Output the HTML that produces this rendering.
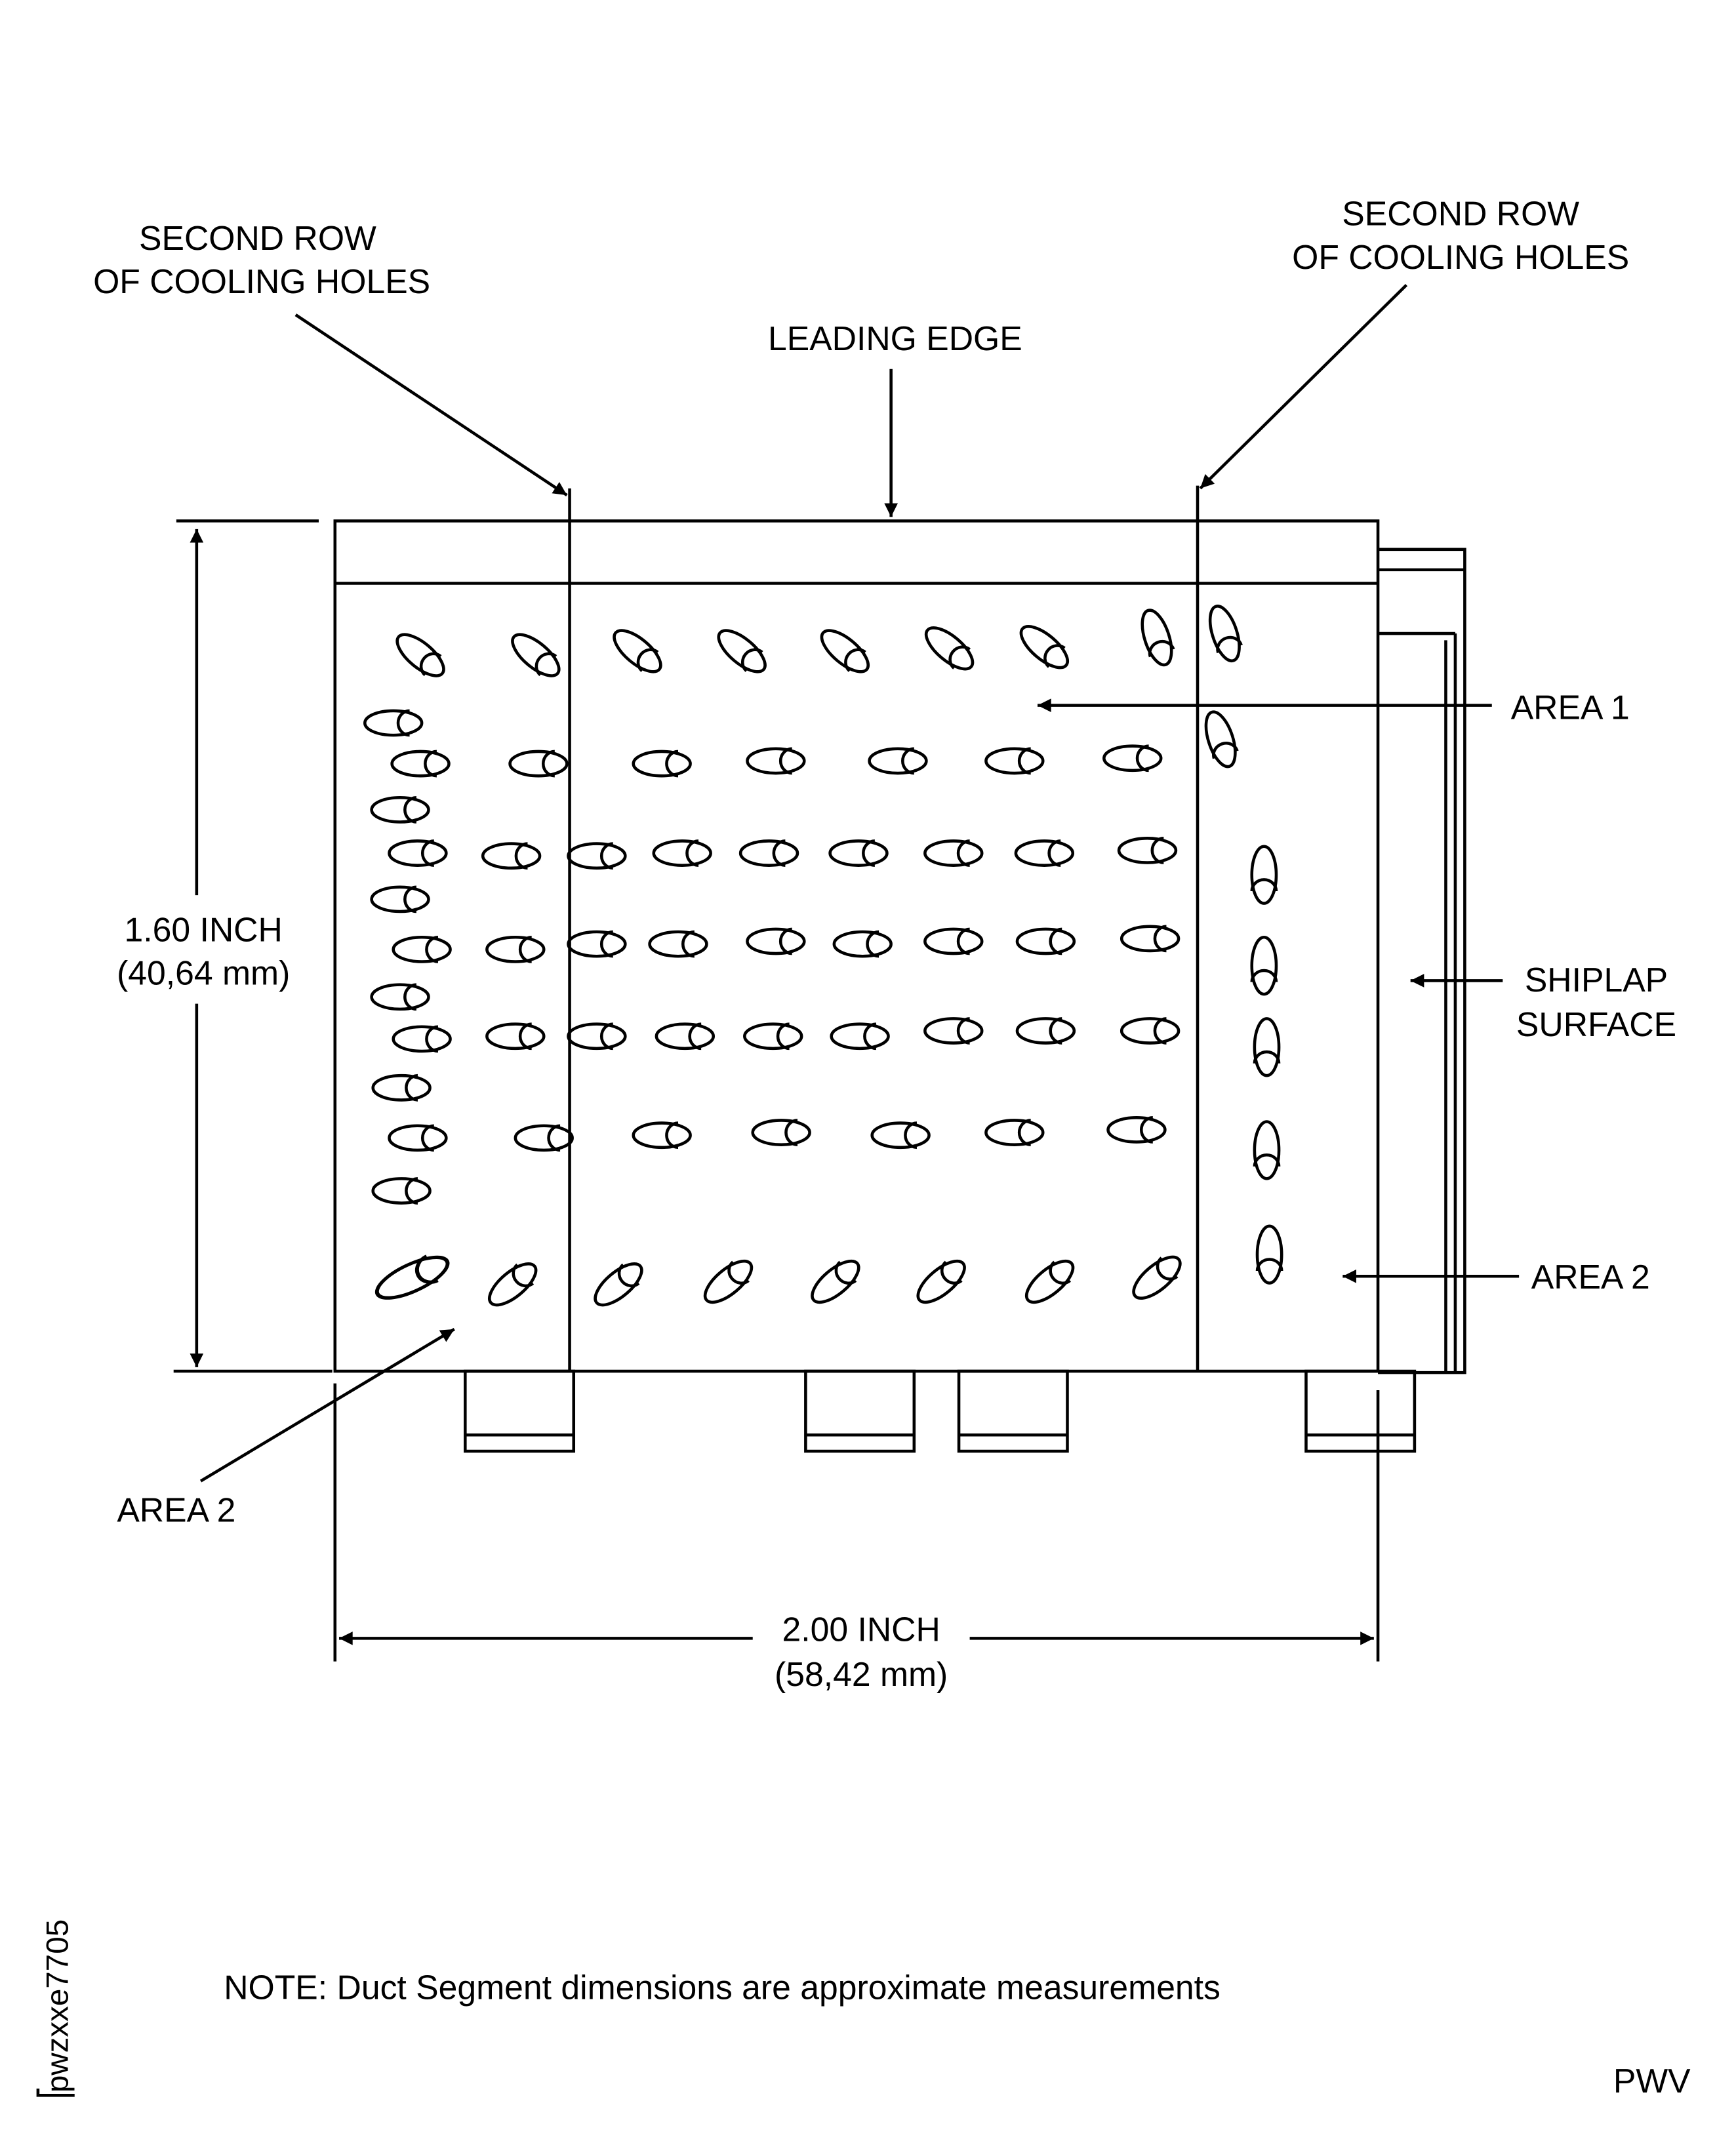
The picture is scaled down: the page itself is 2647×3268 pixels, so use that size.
<!DOCTYPE html>
<html><head><meta charset="utf-8"><style>
html,body{margin:0;padding:0;background:#fff}
svg{display:block}
text{font-family:"Liberation Sans",Arial,sans-serif;font-size:25px;fill:#000}
</style></head><body>
<svg width="2647" height="3268" viewBox="0 0 1280 1580" xmlns="http://www.w3.org/2000/svg">
<defs>
<marker id="a" viewBox="0 0 10 10" refX="10" refY="5" markerWidth="16" markerHeight="10" markerUnits="userSpaceOnUse" orient="auto"><path d="M0,0 L10,5 L0,10 z" fill="#000"/></marker>
<g id="h"><ellipse cx="0" cy="0" rx="21" ry="9" fill="none" stroke="#000" stroke-width="2.2"/><path d="M12,-9 A8,8.5 0 0 0 12,9" fill="none" stroke="#000" stroke-width="2.2"/></g>
</defs>
<g fill="none" stroke="#000" stroke-width="2.2">
<rect x="247" y="384" width="769" height="627"/>
<line x1="247" y1="430" x2="1016" y2="430"/>
<line x1="420" y1="360" x2="420" y2="1011"/>
<line x1="883" y1="358" x2="883" y2="1011"/>
<polyline points="1016,405 1080,405 1080,1012 1016,1012"/>
<line x1="1016" y1="420" x2="1080" y2="420"/>
<line x1="1016" y1="467" x2="1073" y2="467"/>
<line x1="1073" y1="467" x2="1073" y2="1012"/>
<line x1="1066" y1="472" x2="1066" y2="1012"/>
<rect x="343" y="1011" width="80" height="59"/><line x1="343" y1="1058" x2="423" y2="1058"/>
<rect x="594" y="1011" width="80" height="59"/><line x1="594" y1="1058" x2="674" y2="1058"/>
<rect x="707" y="1011" width="80" height="59"/><line x1="707" y1="1058" x2="787" y2="1058"/>
<rect x="963" y="1011" width="80" height="59"/><line x1="963" y1="1058" x2="1043" y2="1058"/>
<line x1="130" y1="384" x2="235" y2="384"/>
<line x1="128" y1="1011" x2="245" y2="1011"/>
<line x1="145" y1="660" x2="145" y2="390" marker-end="url(#a)"/>
<line x1="145" y1="740" x2="145" y2="1008" marker-end="url(#a)"/>
<line x1="247" y1="1020" x2="247" y2="1225"/>
<line x1="1016" y1="1025" x2="1016" y2="1225"/>
<line x1="555" y1="1208" x2="250" y2="1208" marker-end="url(#a)"/>
<line x1="715" y1="1208" x2="1013" y2="1208" marker-end="url(#a)"/>
<line x1="218" y1="232" x2="418" y2="365" marker-end="url(#a)"/>
<line x1="1037" y1="210" x2="885" y2="360" marker-end="url(#a)"/>
<line x1="657" y1="272" x2="657" y2="381" marker-end="url(#a)"/>
<line x1="1100" y1="520" x2="765" y2="520" marker-end="url(#a)"/>
<line x1="1108" y1="723" x2="1040" y2="723" marker-end="url(#a)"/>
<line x1="1120" y1="941" x2="990" y2="941" marker-end="url(#a)"/>
<line x1="148" y1="1092" x2="335" y2="980" marker-end="url(#a)"/>
<polyline points="28,1545 28,1540 28,1545 55,1545"/>
</g>
<g>
<use href="#h" transform="translate(310,483) rotate(40)"/>
<use href="#h" transform="translate(395,483) rotate(40)"/>
<use href="#h" transform="translate(470,480) rotate(40)"/>
<use href="#h" transform="translate(547,480) rotate(40)"/>
<use href="#h" transform="translate(623,480) rotate(40)"/>
<use href="#h" transform="translate(700,478) rotate(40)"/>
<use href="#h" transform="translate(770,477) rotate(40)"/>
<use href="#h" transform="translate(853,470) rotate(72)"/>
<use href="#h" transform="translate(903,467) rotate(72)"/>
<use href="#h" transform="translate(900,545) rotate(72)"/>
<use href="#h" transform="translate(290,533)"/>
<use href="#h" transform="translate(295,597)"/>
<use href="#h" transform="translate(295,663)"/>
<use href="#h" transform="translate(295,735)"/>
<use href="#h" transform="translate(296,802)"/>
<use href="#h" transform="translate(296,878)"/>
<use href="#h" transform="translate(310,563)"/><use href="#h" transform="translate(397,563)"/><use href="#h" transform="translate(488,563)"/><use href="#h" transform="translate(572,561)"/><use href="#h" transform="translate(662,561)"/><use href="#h" transform="translate(748,561)"/><use href="#h" transform="translate(835,559)"/>
<use href="#h" transform="translate(308,629)"/><use href="#h" transform="translate(377,631)"/><use href="#h" transform="translate(440,631)"/><use href="#h" transform="translate(503,629)"/><use href="#h" transform="translate(567,629)"/><use href="#h" transform="translate(633,629)"/><use href="#h" transform="translate(703,629)"/><use href="#h" transform="translate(770,629)"/><use href="#h" transform="translate(846,627)"/>
<use href="#h" transform="translate(311,700)"/><use href="#h" transform="translate(380,700)"/><use href="#h" transform="translate(440,696)"/><use href="#h" transform="translate(500,696)"/><use href="#h" transform="translate(572,694)"/><use href="#h" transform="translate(636,696)"/><use href="#h" transform="translate(703,694)"/><use href="#h" transform="translate(771,694)"/><use href="#h" transform="translate(848,692)"/>
<use href="#h" transform="translate(311,766)"/><use href="#h" transform="translate(380,764)"/><use href="#h" transform="translate(440,764)"/><use href="#h" transform="translate(505,764)"/><use href="#h" transform="translate(570,764)"/><use href="#h" transform="translate(634,764)"/><use href="#h" transform="translate(703,760)"/><use href="#h" transform="translate(771,760)"/><use href="#h" transform="translate(848,760)"/>
<use href="#h" transform="translate(308,839)"/><use href="#h" transform="translate(401,839)"/><use href="#h" transform="translate(488,837)"/><use href="#h" transform="translate(576,835)"/><use href="#h" transform="translate(664,837)"/><use href="#h" transform="translate(748,835)"/><use href="#h" transform="translate(838,833)"/>
<use href="#h" transform="translate(304,942) rotate(-25) scale(1.35,1.1)"/>
<use href="#h" transform="translate(378,947) rotate(-40)"/><use href="#h" transform="translate(456,947) rotate(-40)"/><use href="#h" transform="translate(537,945) rotate(-40)"/><use href="#h" transform="translate(616,945) rotate(-40)"/><use href="#h" transform="translate(694,945) rotate(-40)"/><use href="#h" transform="translate(774,945) rotate(-40)"/><use href="#h" transform="translate(853,942) rotate(-40)"/>
<use href="#h" transform="translate(932,645) rotate(90)"/><use href="#h" transform="translate(932,712) rotate(90)"/><use href="#h" transform="translate(934,772) rotate(90)"/><use href="#h" transform="translate(934,848) rotate(90)"/><use href="#h" transform="translate(936,925) rotate(90)"/>
</g>
<text x="190" y="184" text-anchor="middle">SECOND ROW</text>
<text x="193" y="216" text-anchor="middle">OF COOLING HOLES</text>
<text x="1077" y="166" text-anchor="middle">SECOND ROW</text>
<text x="1077" y="198" text-anchor="middle">OF COOLING HOLES</text>
<text x="660" y="258" text-anchor="middle">LEADING EDGE</text>
<text x="1114" y="530">AREA 1</text>
<text x="1177" y="731" text-anchor="middle">SHIPLAP</text>
<text x="1177" y="764" text-anchor="middle">SURFACE</text>
<text x="1129" y="950">AREA 2</text>
<text x="130" y="1122" text-anchor="middle">AREA 2</text>
<text x="150" y="694" text-anchor="middle">1.60 INCH</text>
<text x="150" y="726" text-anchor="middle">(40,64 mm)</text>
<text x="635" y="1210" text-anchor="middle">2.00 INCH</text>
<text x="635" y="1243" text-anchor="middle">(58,42 mm)</text>
<text x="165" y="1474">NOTE: Duct Segment dimensions are approximate measurements</text>
<text x="1218" y="1543" text-anchor="middle">PWV</text>
<text x="0" y="0" transform="translate(50,1543) rotate(-90)" style="font-size:23px">pwzxxe7705</text>
</svg>
</body></html>
